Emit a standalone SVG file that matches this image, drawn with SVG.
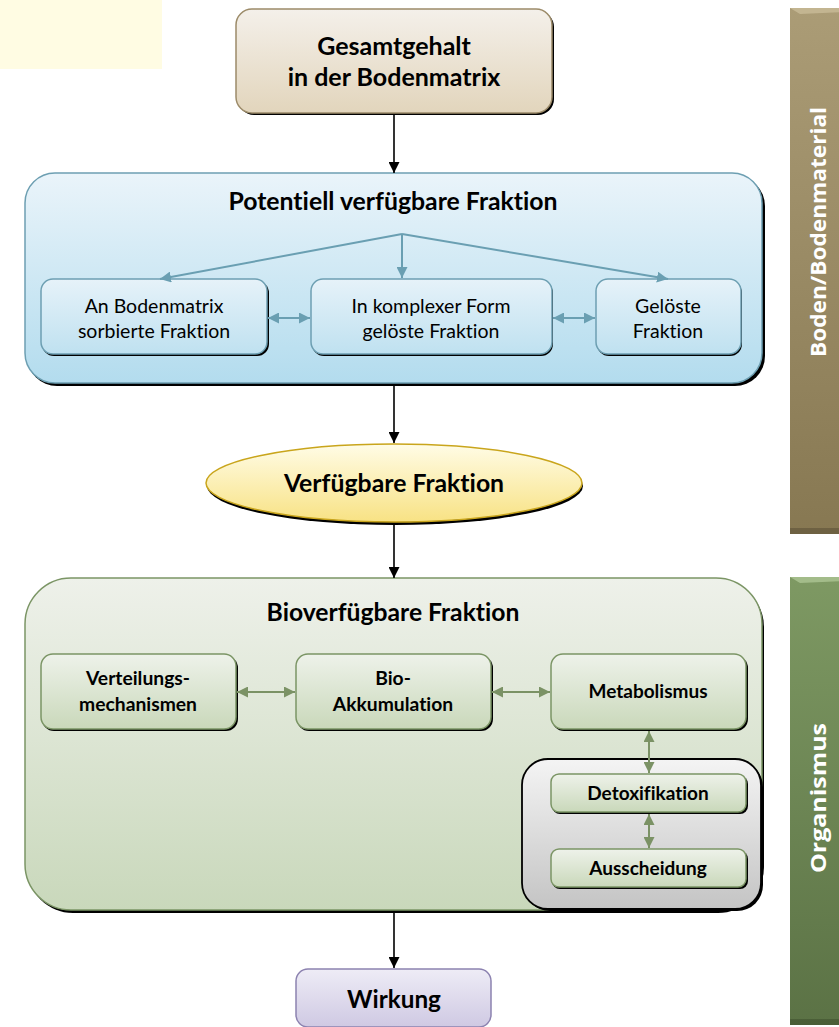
<svg xmlns="http://www.w3.org/2000/svg" width="839" height="1027" viewBox="0 0 839 1027">
<style>
.t{font-family:Lato,"Liberation Sans",sans-serif;fill:#000;text-anchor:middle;font-variant-ligatures:none;font-feature-settings:"liga" 0}
.b{font-weight:bold}
.sh{fill:#000}
.blk{stroke:#000;stroke-width:1.6;fill:none}
.blu{stroke:#6A9FB2;stroke-width:2;fill:none}
.grn{stroke:#7B9265;stroke-width:2;fill:none}
.side{font-family:"Open Sans","Liberation Sans",sans-serif;font-weight:bold;fill:#fff;font-size:21px;text-anchor:middle}
</style>
<defs>
<linearGradient id="gBrown" x1="0" y1="0" x2="0" y2="1"><stop offset="0" stop-color="#F4F0EA"/><stop offset="1" stop-color="#E2D5BC"/></linearGradient>
<linearGradient id="gBlue" x1="0" y1="0" x2="0" y2="1"><stop offset="0" stop-color="#EAF4FA"/><stop offset="1" stop-color="#B3DCEE"/></linearGradient>
<linearGradient id="gBlueS" x1="0" y1="0" x2="0" y2="1"><stop offset="0" stop-color="#E6F2F9"/><stop offset="1" stop-color="#BFE1F0"/></linearGradient>
<linearGradient id="gYel" x1="0" y1="0" x2="0" y2="1"><stop offset="0" stop-color="#FFFCE6"/><stop offset="1" stop-color="#F8E284"/></linearGradient>
<linearGradient id="gGrn" x1="0" y1="0" x2="0" y2="1"><stop offset="0" stop-color="#EEF1EA"/><stop offset="1" stop-color="#C9D8BB"/></linearGradient>
<linearGradient id="gGrnS" x1="0" y1="0" x2="0" y2="1"><stop offset="0" stop-color="#EEF2EA"/><stop offset="1" stop-color="#C9D8BA"/></linearGradient>
<linearGradient id="gGrey" x1="0" y1="0" x2="0" y2="1"><stop offset="0" stop-color="#F4F4F4"/><stop offset="1" stop-color="#C4C4C4"/></linearGradient>
<linearGradient id="gPur" x1="0" y1="0" x2="0" y2="1"><stop offset="0" stop-color="#EEECF6"/><stop offset="1" stop-color="#CFC9E3"/></linearGradient>
<linearGradient id="gBod" x1="0" y1="0" x2="0" y2="1"><stop offset="0" stop-color="#AB9C76"/><stop offset="1" stop-color="#877852"/></linearGradient>
<linearGradient id="gOrg" x1="0" y1="0" x2="0" y2="1"><stop offset="0" stop-color="#7E9963"/><stop offset="1" stop-color="#5B7245"/></linearGradient>
<marker id="aBlk" viewBox="0 0 10 10" refX="10" refY="5" markerWidth="11" markerHeight="11" markerUnits="userSpaceOnUse" orient="auto-start-reverse"><path d="M0,0L10,5L0,10z" fill="#000"/></marker>
<marker id="aBlu" viewBox="0 0 10 10" refX="10" refY="5" markerWidth="11" markerHeight="11" markerUnits="userSpaceOnUse" orient="auto-start-reverse"><path d="M0,0L10,5L0,10z" fill="#6A9FB2"/></marker>
<marker id="aGrn" viewBox="0 0 10 10" refX="10" refY="5" markerWidth="11" markerHeight="11" markerUnits="userSpaceOnUse" orient="auto-start-reverse"><path d="M0,0L10,5L0,10z" fill="#7B9265"/></marker>
</defs>

<rect x="0" y="0" width="162" height="69" fill="#FFFCE3"/>

<g id="sidebar-boden">
<rect x="790" y="8" width="55" height="526" fill="url(#gBod)"/>
<path d="M790,8 L845,8 L845,12 L800,14 Z" fill="#C9BC98" opacity="0.8"/>
<rect x="790" y="528" width="55" height="6" fill="#5E5238" opacity="0.6"/>
<text class="side" transform="translate(826,232) rotate(-90)" textLength="250" lengthAdjust="spacingAndGlyphs">Boden/Bodenmaterial</text>
</g>
<g id="sidebar-organismus">
<rect x="790" y="577" width="55" height="448" fill="url(#gOrg)"/>
<path d="M790,577 L845,577 L845,581 L800,583 Z" fill="#A7C08E" opacity="0.9"/>
<rect x="790" y="1019" width="55" height="6" fill="#3F522E" opacity="0.6"/>
<text class="side" transform="translate(826,798) rotate(-90)" textLength="150" lengthAdjust="spacingAndGlyphs">Organismus</text>
</g>

<g id="gesamtgehalt">
<rect x="238" y="11" width="316" height="104" rx="16" class="sh"/>
<rect x="236" y="9" width="316" height="104" rx="16" fill="url(#gBrown)" stroke="#9C8B69" stroke-width="1.5"/>
<text class="t b" x="394" y="55" font-size="25">Gesamtgehalt</text>
<text class="t b" x="394" y="86" font-size="25">in der Bodenmatrix</text>
</g>

<g id="potentiell">
<rect x="27" y="176" width="738" height="210" rx="30" class="sh"/>
<rect x="25" y="173" width="737" height="210" rx="30" fill="url(#gBlue)" stroke="#6D9FB2" stroke-width="1.5"/>
<text class="t b" x="393" y="210" font-size="24.8">Potentiell verfügbare Fraktion</text>
</g>
<g id="sorbierte">
<rect x="42" y="281" width="227" height="75" rx="12" class="sh"/>
<rect x="41" y="279" width="226" height="75" rx="12" fill="url(#gBlueS)" stroke="#6D9FB2" stroke-width="1.5"/>
<text class="t" x="154" y="313" font-size="19.5">An Bodenmatrix</text>
<text class="t" x="154" y="338" font-size="19.5">sorbierte Fraktion</text>
</g>
<g id="komplex">
<rect x="312" y="281" width="241" height="75" rx="12" class="sh"/>
<rect x="311" y="279" width="241" height="75" rx="12" fill="url(#gBlueS)" stroke="#6D9FB2" stroke-width="1.5"/>
<text class="t" x="431" y="313" font-size="19.5">In komplexer Form</text>
<text class="t" x="431" y="338" font-size="19.5">gelöste Fraktion</text>
</g>
<g id="geloeste">
<rect x="597" y="281" width="145" height="75" rx="12" class="sh"/>
<rect x="596" y="279" width="145" height="75" rx="12" fill="url(#gBlueS)" stroke="#6D9FB2" stroke-width="1.5"/>
<text class="t" x="668" y="313" font-size="19.5">Gelöste</text>
<text class="t" x="668" y="338" font-size="19.5">Fraktion</text>
</g>

<g id="verfuegbar">
<ellipse cx="395" cy="486" rx="188" ry="39" class="sh"/>
<ellipse cx="394" cy="483" rx="188" ry="39" fill="url(#gYel)" stroke="#C9A51C" stroke-width="1.5"/>
<text class="t b" x="394" y="492" font-size="24.8">Verfügbare Fraktion</text>
</g>

<g id="bioverfuegbar">
<rect x="27" y="581" width="737" height="332" rx="46" class="sh"/>
<rect x="25" y="578" width="737" height="332" rx="46" fill="url(#gGrn)" stroke="#7B9565" stroke-width="1.5"/>
<text class="t b" x="393" y="621" font-size="24.7">Bioverfügbare Fraktion</text>
</g>
<g id="verteilung">
<rect x="42" y="656" width="196" height="75" rx="12" class="sh"/>
<rect x="41" y="654" width="195" height="75" rx="12" fill="url(#gGrnS)" stroke="#7B9565" stroke-width="1.5"/>
<text class="t b" x="138" y="685" font-size="19.3">Verteilungs-</text>
<text class="t b" x="138" y="711" font-size="19.3">mechanismen</text>
</g>
<g id="bioakkumulation">
<rect x="297" y="656" width="196" height="75" rx="12" class="sh"/>
<rect x="296" y="654" width="195" height="75" rx="12" fill="url(#gGrnS)" stroke="#7B9565" stroke-width="1.5"/>
<text class="t b" x="393" y="685" font-size="19.3">Bio-</text>
<text class="t b" x="393" y="711" font-size="19.3">Akkumulation</text>
</g>
<g id="metabolismus">
<rect x="552" y="656" width="196" height="75" rx="12" class="sh"/>
<rect x="551" y="654" width="195" height="75" rx="12" fill="url(#gGrnS)" stroke="#7B9565" stroke-width="1.5"/>
<text class="t b" x="648" y="698" font-size="19">Metabolismus</text>
</g>
<g id="entgiftung">
<rect x="524" y="761" width="239" height="150" rx="26" class="sh"/>
<rect x="522" y="759" width="239" height="150" rx="26" fill="url(#gGrey)" stroke="#000" stroke-width="1.8"/>
</g>
<g id="detoxifikation">
<rect x="552" y="776" width="196" height="38" rx="8" class="sh"/>
<rect x="551" y="774" width="195" height="38" rx="8" fill="url(#gGrnS)" stroke="#7B9565" stroke-width="1.5"/>
<text class="t b" x="648" y="800" font-size="19">Detoxifikation</text>
</g>
<g id="ausscheidung">
<rect x="552" y="851" width="196" height="38" rx="8" class="sh"/>
<rect x="551" y="849" width="195" height="38" rx="8" fill="url(#gGrnS)" stroke="#7B9565" stroke-width="1.5"/>
<text class="t b" x="648" y="875" font-size="19">Ausscheidung</text>
</g>

<g id="wirkung">
<rect x="296" y="969" width="195" height="58" rx="12" fill="url(#gPur)" stroke="#8C82B0" stroke-width="1.5"/>
<text class="t b" x="394" y="1008" font-size="24.3">Wirkung</text>
</g>

<g id="connectors">
<line x1="394" y1="115" x2="394" y2="173" class="blk" marker-end="url(#aBlk)"/>
<line x1="394" y1="386" x2="394" y2="443" class="blk" marker-end="url(#aBlk)"/>
<line x1="394" y1="525" x2="394" y2="578" class="blk" marker-end="url(#aBlk)"/>
<line x1="394" y1="913" x2="394" y2="968" class="blk" marker-end="url(#aBlk)"/>
<line x1="402" y1="234" x2="160" y2="279" class="blu" marker-end="url(#aBlu)"/>
<line x1="402" y1="234" x2="402" y2="278" class="blu" marker-end="url(#aBlu)"/>
<line x1="402" y1="234" x2="668" y2="279" class="blu" marker-end="url(#aBlu)"/>
<line x1="268" y1="318" x2="310" y2="318" class="blu" marker-start="url(#aBlu)" marker-end="url(#aBlu)"/>
<line x1="553" y1="318" x2="595" y2="318" class="blu" marker-start="url(#aBlu)" marker-end="url(#aBlu)"/>
<line x1="237" y1="692" x2="295" y2="692" class="grn" marker-start="url(#aGrn)" marker-end="url(#aGrn)"/>
<line x1="492" y1="692" x2="550" y2="692" class="grn" marker-start="url(#aGrn)" marker-end="url(#aGrn)"/>
<line x1="649" y1="731" x2="649" y2="773" class="grn" marker-start="url(#aGrn)" marker-end="url(#aGrn)"/>
<line x1="649" y1="814" x2="649" y2="848" class="grn" marker-start="url(#aGrn)" marker-end="url(#aGrn)"/>
</g>
</svg>
